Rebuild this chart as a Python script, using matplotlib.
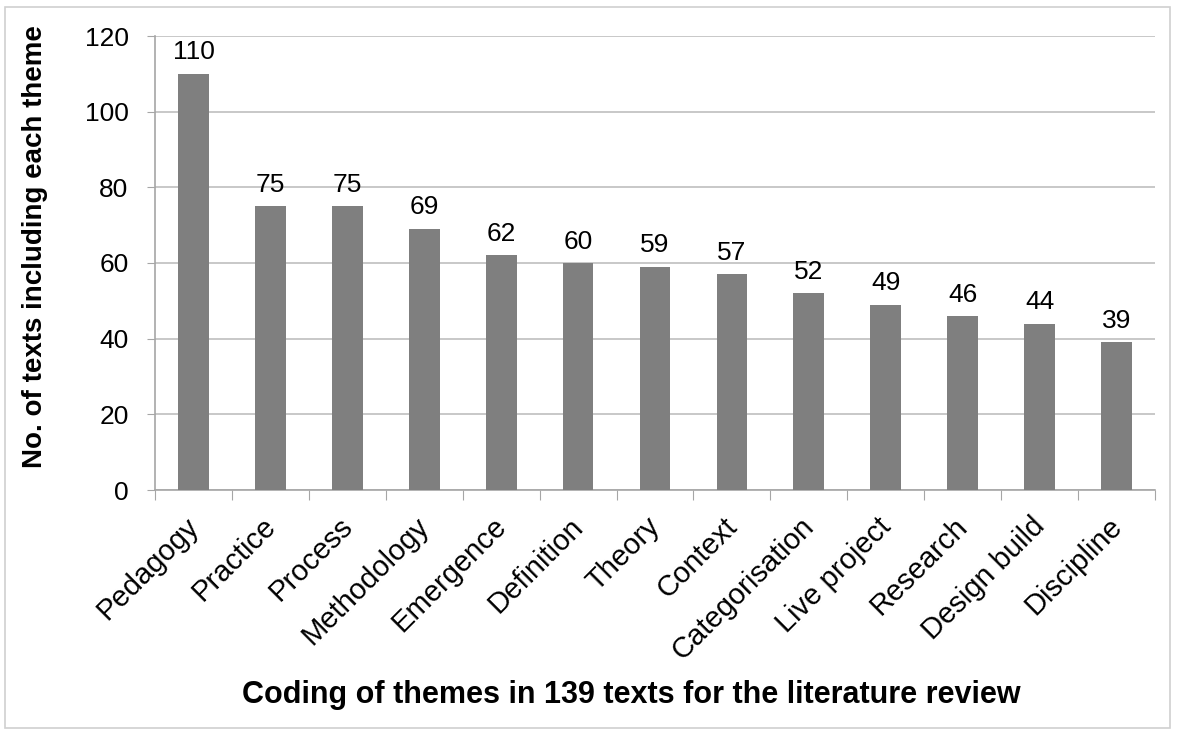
import matplotlib.pyplot as plt
import matplotlib.patches as patches
from matplotlib.transforms import ScaledTranslation
import numpy as np

themes = ['Pedagogy', 'Practice', 'Process', 'Methodology', 'Emergence',
          'Definition', 'Theory', 'Context', 'Categorisation', 'Live project',
          'Research', 'Design build', 'Discipline']
counts = [110, 75, 75, 69, 62, 60, 59, 57, 52, 49, 46, 44, 39]
y_ticks = [0, 20, 40, 60, 80, 100, 120]

plt.rcParams['font.family'] = ['Liberation Sans', 'DejaVu Sans']

fig = plt.figure(figsize=(11.77, 7.36), dpi=100)
ax = fig.add_axes([155 / 1177, 1 - 490 / 736, 1000 / 1177, 454 / 736])

x = np.arange(len(themes))
ax.bar(x, counts, width=0.4, color='#7f7f7f', zorder=3)

# value labels above each bar
for xi, c in zip(x, counts):
    ax.text(xi, c + 2.5, str(c), ha='center', va='bottom', fontsize=19)

ax.set_xlim(-0.5, len(themes) - 0.5)
ax.set_ylim(0, 120)
ax.set_yticks(y_ticks)
ax.tick_params(axis='y', labelsize=19, length=6, color='#a6a6a6', pad=13)
ax.yaxis.grid(True, color='#bfbfbf', linewidth=1.2, zorder=0)

# tick marks between categories, labels at the bar centres
ax.set_xticks(np.arange(len(themes) + 1) - 0.5)
ax.set_xticklabels([])
ax.tick_params(axis='x', which='major', length=7, color='#a6a6a6')
ax.set_xticks(x, minor=True)
ax.set_xticklabels(themes, minor=True, rotation=45, ha='right',
                   rotation_mode='anchor', fontsize=21)
ax.tick_params(axis='x', which='minor', length=0, pad=16)
shift = ScaledTranslation(-9 / 100, 0, fig.dpi_scale_trans)
for lbl in ax.get_xticklabels(minor=True):
    lbl.set_transform(lbl.get_transform() + shift)

for s in ['top', 'right']:
    ax.spines[s].set_visible(False)
for s in ['left', 'bottom']:
    ax.spines[s].set_color('#a6a6a6')
    ax.spines[s].set_linewidth(1.2)

fig.text(35 / 1177, 1 - 247 / 736, 'No. of texts including each theme',
         rotation=90, ha='center', va='center', fontsize=20, fontweight='bold')
fig.text(631 / 1177, 1 - 695 / 736, 'Coding of themes in 139 texts for the literature review',
         ha='center', va='center', fontsize=22, fontweight='bold')

# thin frame round the whole chart
fig.patches.append(patches.Rectangle((5 / 1177, 8 / 736), 1165 / 1177, 721 / 736,
                                     transform=fig.transFigure, fill=False,
                                     edgecolor='#d0d0d0', linewidth=1.2))

fig.savefig('out.png', dpi=100)
